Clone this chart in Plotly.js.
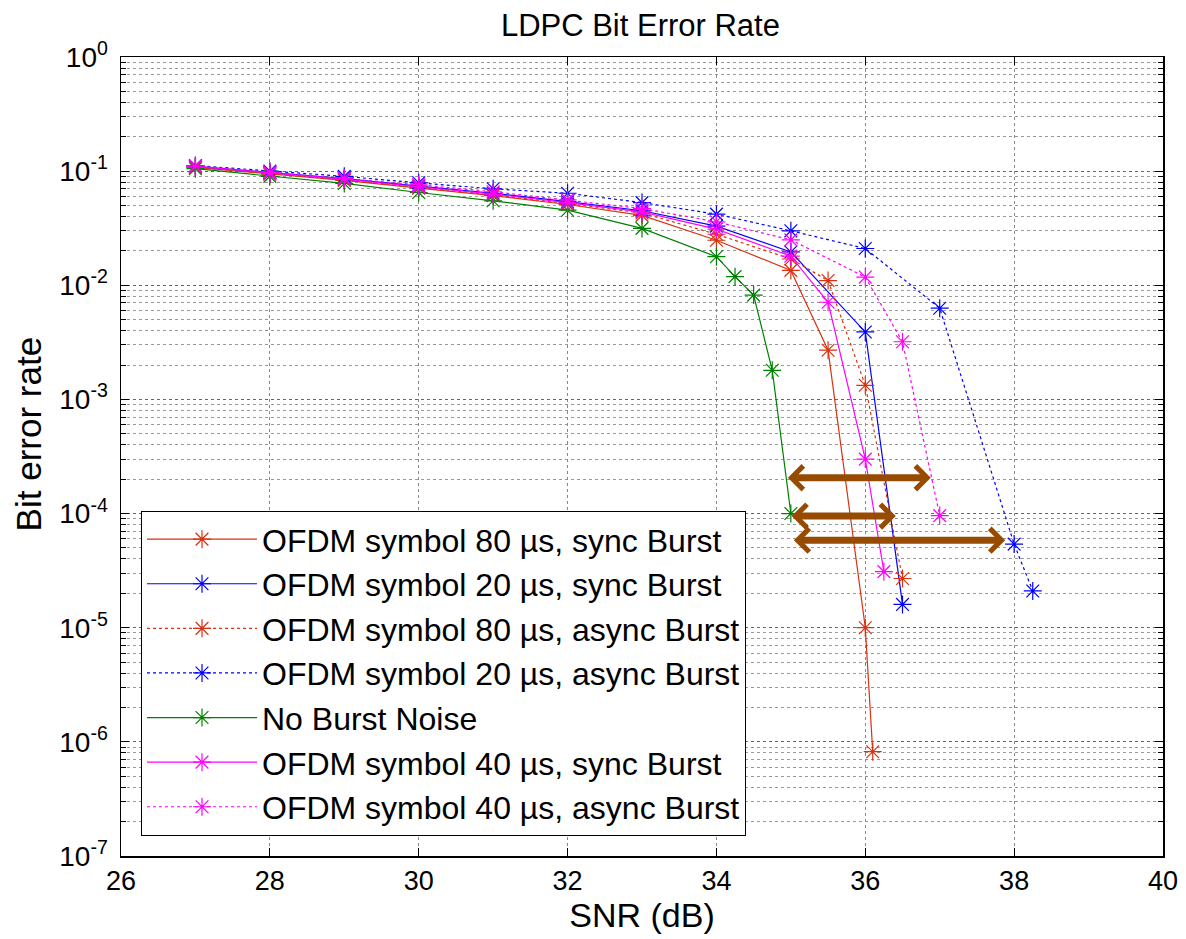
<!DOCTYPE html>
<html>
<head>
<meta charset="utf-8">
<script src="https://cdn.plot.ly/plotly-3.0.1.min.js"></script>
<style>
html,body{margin:0;padding:0;background:#fff;}
#chart{width:1186px;height:939px;}
</style>
</head>
<body>
<div id="chart"></div>
<script>
// ---- data ----
const seriesNames = [
  "OFDM symbol 80 \u00b5s, sync Burst",
  "OFDM symbol 20 \u00b5s, sync Burst",
  "OFDM symbol 80 \u00b5s, async Burst",
  "OFDM symbol 20 \u00b5s, async Burst",
  "No Burst Noise",
  "OFDM symbol 40 \u00b5s, sync Burst",
  "OFDM symbol 40 \u00b5s, async Burst"
];

const snr80sync  = [27, 28, 29, 30, 31, 32, 33, 34, 35, 35.5, 36, 36.1];
const ber80sync  = [0.108, 0.094, 0.083, 0.071, 0.061, 0.051, 0.041, 0.0248, 0.0135, 0.0027, 1.0e-5, 8.2e-7];

const snr20sync  = [27, 28, 29, 30, 31, 32, 33, 34, 35, 36, 36.5];
const ber20sync  = [0.11, 0.097, 0.086, 0.074, 0.064, 0.054, 0.045, 0.033, 0.0196, 0.0039, 1.6e-5];

const snr80async = [27, 28, 29, 30, 31, 32, 33, 34, 35, 35.5, 36, 36.5];
const ber80async = [0.108, 0.095, 0.084, 0.072, 0.062, 0.052, 0.043, 0.028, 0.017, 0.011, 0.00133, 2.7e-5];

const snr20async = [27, 28, 29, 30, 31, 32, 33, 34, 35, 36, 37, 38, 38.25];
const ber20async = [0.112, 0.1, 0.09, 0.079, 0.07, 0.064, 0.053, 0.042, 0.030, 0.021, 0.0063, 5.4e-5, 2.1e-5];

const snrNoBurst = [27, 28, 29, 30, 31, 32, 33, 34, 34.25, 34.5, 34.75, 35];
const berNoBurst = [0.105, 0.09, 0.078, 0.065, 0.055, 0.0455, 0.0315, 0.0178, 0.0119, 0.0082, 0.0018, 1.0e-4];

const snr40sync  = [27, 28, 29, 30, 31, 32, 33, 34, 35, 35.5, 36, 36.25];
const ber40sync  = [0.11, 0.096, 0.085, 0.073, 0.063, 0.053, 0.044, 0.031, 0.018, 0.0071, 3.0e-4, 3.1e-5];

const snr40async = [27, 28, 29, 30, 31, 32, 33, 34, 35, 36, 36.5, 37];
const ber40async = [0.111, 0.098, 0.087, 0.076, 0.066, 0.056, 0.047, 0.036, 0.025, 0.0118, 0.0032, 9.6e-5];

// double-headed arrows (SNR penalty annotations)
const arrowStart = [34.94, 34.99, 35.02];
const arrowEnd   = [36.88, 36.41, 37.88];
const arrowBer   = [2.06e-4, 9.5e-5, 5.85e-5];

const xTickVals = [26, 28, 30, 32, 34, 36, 38, 40];
const yTickVals = [1e-7, 1e-6, 1e-5, 1e-4, 1e-3, 1e-2, 1e-1, 1];
const yTickText = ["10<sup>-7</sup>", "10<sup>-6</sup>", "10<sup>-5</sup>", "10<sup>-4</sup>",
                   "10<sup>-3</sup>", "10<sup>-2</sup>", "10<sup>-1</sup>", "10<sup>0</sup>"];

// ---- styles ----
const RED = "#D9320F", BLUE = "#0000FF", GREEN = "#008000", MAG = "#FF00FF";
function tr(x, y, name, color, dash) {
  return {
    x: x, y: y, name: name, type: "scatter", mode: "lines+markers",
    line: {color: color, width: 1.2, dash: dash},
    marker: {symbol: "asterisk-open", size: 15, color: color, line: {color: color, width: 1.2}}
  };
}
const data = [
  tr(snr80sync, ber80sync, seriesNames[0], RED, "solid"),
  tr(snr20sync, ber20sync, seriesNames[1], BLUE, "solid"),
  tr(snr80async, ber80async, seriesNames[2], RED, "dot"),
  tr(snr20async, ber20async, seriesNames[3], BLUE, "dot"),
  tr(snrNoBurst, berNoBurst, seriesNames[4], GREEN, "solid"),
  tr(snr40sync, ber40sync, seriesNames[5], MAG, "solid"),
  tr(snr40async, ber40async, seriesNames[6], MAG, "dot")
];

const FONT = "Liberation Sans, Arial, sans-serif";
const BROWN = "#964B00";
const annotations = [];
for (let i = 0; i < arrowStart.length; i++) {
  annotations.push({
    x: arrowEnd[i], y: Math.log10(arrowBer[i]), xref: "x", yref: "y",
    ax: arrowStart[i], ay: Math.log10(arrowBer[i]), axref: "x", ayref: "y",
    showarrow: true, arrowhead: 4, startarrowhead: 4, arrowside: "end+start",
    arrowwidth: 7, arrowsize: 0.65, startarrowsize: 0.65, arrowcolor: BROWN, text: ""
  });
}
// y-axis title placed like the reference (slightly above the axis centre)
annotations.push({
  text: "Bit error rate", xref: "paper", yref: "paper", x: -0.089, y: 0.528,
  xanchor: "center", yanchor: "middle", textangle: -90, showarrow: false,
  font: {family: FONT, size: 35, color: "#000"}
});

const layout = {
  width: 1186, height: 939,
  margin: {l: 121, r: 23, t: 57, b: 83},
  paper_bgcolor: "#fff", plot_bgcolor: "#fff",
  font: {family: FONT, color: "#000", size: 28},
  title: {text: "LDPC Bit Error Rate", font: {family: FONT, size: 31, color: "#000"},
          x: 0.54, xanchor: "center", y: 0.973, yanchor: "middle"},
  showlegend: true,
  legend: {
    x: 0.0192, y: 0.432, xanchor: "left", yanchor: "top",
    bgcolor: "#fff", bordercolor: "#000", borderwidth: 1,
    font: {family: FONT, size: 32, color: "#000"},
    itemwidth: 110, tracegroupgap: 0
  },
  xaxis: {
    range: [26, 40], tickvals: xTickVals, ticktext: xTickVals.map(String),
    showline: true, linecolor: "#000", linewidth: 1.5, mirror: "ticks",
    ticks: "inside", ticklen: 8, tickcolor: "#000",
    showgrid: true, gridcolor: "#888", griddash: "dot", gridwidth: 1,
    zeroline: false, tickfont: {size: 27},
    title: {text: "SNR (dB)", font: {size: 34}, standoff: 6}
  },
  yaxis: {
    type: "log", range: [-7, 0], tickvals: yTickVals, ticktext: yTickText,
    showline: true, linecolor: "#000", linewidth: 1.5, mirror: "ticks",
    ticks: "inside", ticklen: 8, tickcolor: "#000",
    showgrid: true, gridcolor: "#666", griddash: "dot", gridwidth: 1,
    zeroline: false, tickfont: {size: 28}, ticklabelstandoff: 6,
    minor: {dtick: "D1", showgrid: true, gridcolor: "#999", griddash: "dot",
            ticks: "inside", ticklen: 5, tickcolor: "#000"}
  },
  annotations: annotations
};

Plotly.newPlot("chart", data, layout, {displayModeBar: false, staticPlot: true});
</script>
</body>
</html>
